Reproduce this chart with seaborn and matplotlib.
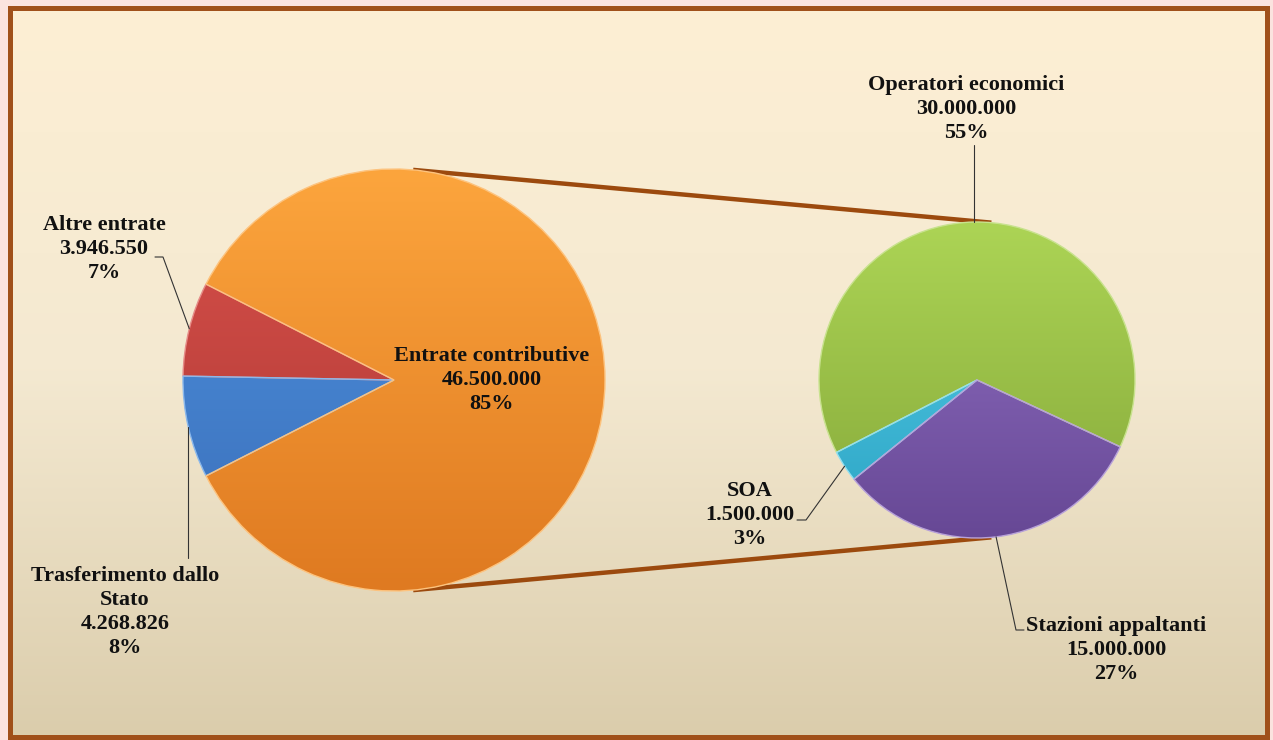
import numpy as np
import matplotlib
matplotlib.use("Agg")
import matplotlib.pyplot as plt
from matplotlib.patches import Rectangle
import seaborn as sns

# primary pie
main_labels = ["Altre entrate", "Trasferimento dallo\nStato", "Entrate contributive"]
main_values = [3946550, 4268826, 46500000]

# secondary pie = breakdown of "Entrate contributive"
sub_labels = ["Operatori economici", "SOA", "Stazioni appaltanti"]
sub_values = [30000000, 1500000, 15000000]

# (top, bottom) gradient colours per slice
main_colors = [("#da524c", "#aa3632"), ("#4f95e2", "#3a6db8"), ("#fca53d", "#df7a21")]
sub_colors = [("#acd455", "#86a93a"), ("#58cfea", "#2ca4c4"), ("#9372c6", "#674895")]

W, H = 1273, 740
total = sum(main_values)


def fmt(v):
    return f"{v:,}".replace(",", ".")


def pct(v):
    return f"{round(100 * v / total)}%"


sns.set_style("white")
plt.rcParams["font.family"] = ["Liberation Serif", "DejaVu Serif"]

fig = plt.figure(figsize=(W / 100, H / 100), dpi=100, facecolor="#fbe3df")
ax = fig.add_axes([0, 0, 1, 1])
ax.set_facecolor("none")

# background gradient inside the frame
bg = np.array(sns.blend_palette(["#fdefd4", "#f4e9d1", "#dbcdac"], 128))[:, None, :]
ax.imshow(bg, extent=(10, W - 6, 3, H - 8), origin="upper", aspect="auto",
          interpolation="bicubic", zorder=0)
ax.add_patch(Rectangle((9.5, 3), W - 16, H - 11, fill=False,
                       edgecolor="#a0501a", linewidth=3.6, zorder=5))

# pie geometry in pixels (y up)
c1, r1 = (394, H - 380), 211
c2, r2 = (977, H - 380), 158

start1 = 180 - 360 * (main_values[0] + main_values[1]) / total / 2
wedges1, _ = ax.pie(main_values, center=c1, radius=r1, startangle=start1,
                    counterclock=True, frame=True)
wedges2, _ = ax.pie(sub_values, center=c2, radius=r2, startangle=-25,
                    counterclock=True, frame=True)


def shade(wedges, colors, c, r):
    for w, (top, bot) in zip(wedges, colors):
        grad = np.array(sns.blend_palette([top, bot], 64))[:, None, :]
        im = ax.imshow(grad, extent=(c[0] - r, c[0] + r, c[1] - r, c[1] + r),
                       origin="upper", aspect="auto", interpolation="bicubic", zorder=2)
        im.set_clip_path(w)
        w.set_facecolor("none")
        w.set_edgecolor(sns.blend_palette([top, "#ffffff"], 4)[1])
        w.set_linewidth(1.0)
        w.set_zorder(3)


shade(wedges1, main_colors, c1, r1)
shade(wedges2, sub_colors, c2, r2)

# connector lines = external tangents of the two pies
phi = np.arccos((r1 - r2) / (c2[0] - c1[0]))
for s in (1, -1):
    p1 = (c1[0] + r1 * np.cos(phi), c1[1] + s * r1 * np.sin(phi))
    p2 = (c2[0] + r2 * np.cos(phi), c2[1] + s * r2 * np.sin(phi))
    ax.plot([p1[0], p2[0]], [p1[1], p2[1]], color="#9c4a0e", lw=3.2,
            solid_capstyle="butt", zorder=1.5)


def anchor(w, c, r):
    t = np.deg2rad((w.theta1 + w.theta2) / 2)
    return c[0] + r * np.cos(t), c[1] + r * np.sin(t)


txt = dict(ha="center", va="center", fontsize=16, fontweight="bold",
           linespacing=1.27, color="#111111", zorder=6)
lead = dict(color="#333333", lw=0.8, zorder=4)

# label layout (image pixel coords, y down): text centre, leader start points
main_layout = [((104, 249), [(155, 257), (163, 257)]),
               ((125, 612), [None]),
               ((492, 380), [])]
sub_layout = [((966, 109), [None]),
              ((750, 515), [(797, 520), (806, 520)]),
              ((1116, 650), [(1024, 630), (1016, 630)])]

for wedges, labels, values, layout, c, r, y0 in [
        (wedges1, main_labels, main_values, main_layout, c1, r1, 558),
        (wedges2, sub_labels, sub_values, sub_layout, c2, r2, 145)]:
    for w, lab, val, ((tx, ty), pts) in zip(wedges, labels, values, layout):
        ax.text(tx, H - ty, f"{lab}\n{fmt(val)}\n{pct(val)}", **txt)
        if not pts:
            continue
        a = anchor(w, c, r)
        if pts == [None]:
            xs, ys = [a[0], a[0]], [H - y0, a[1]]
        else:
            xs = [p[0] for p in pts] + [a[0]]
            ys = [H - p[1] for p in pts] + [a[1]]
        ax.plot(xs, ys, **lead)

ax.set_xlim(0, W)
ax.set_ylim(0, H)
ax.set_aspect("auto")
ax.axis("off")

fig.savefig("out.png", dpi=100, facecolor=fig.get_facecolor())
